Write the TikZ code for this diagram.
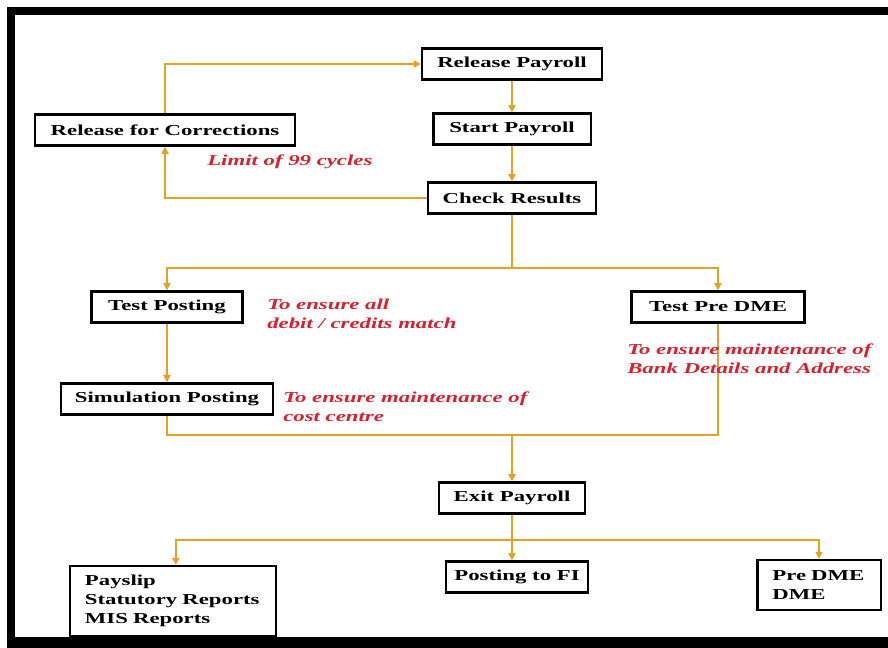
\documentclass[tikz,border=0pt]{standalone}
\usepackage{fontspec}
\setmainfont[FakeStretch=1.5]{Liberation Serif}
\usetikzlibrary{arrows.meta}
\definecolor{flowline}{RGB}{230,162,30}
\definecolor{notered}{RGB}{222,30,45}

\begin{document}
\begin{tikzpicture}[x=0.025cm,y=-0.025cm,
  box/.style={rectangle, draw, line width=1.6pt, fill=white, font=\bfseries,
              minimum height=0.78cm, inner sep=0pt},
  listbox/.style={box, align=left, inner xsep=0.375cm},
  note/.style={anchor=west, align=left, text=notered, font=\bfseries\itshape, inner sep=0pt},
  flow/.style={draw=flowline, line width=1.8pt},
  arr/.style={flow, -{Triangle[length=5pt,width=5pt]}}]
\fontsize{10.8}{13.5}\selectfont
\clip (0,0) rectangle (888,648);
% frame
\fill[black] (7,7) rectangle (900,660);
\fill[white] (15,15) rectangle (900,637);

% payroll run
\node[box, minimum width=4.5cm] (rel) at (512,64) {Release Payroll};
\node[box, minimum width=3.93cm] (start) at (512,129) {Start Payroll};
\node[box, minimum width=4.2cm] (chk) at (512,198) {Check Results};
\node[box, minimum width=6.48cm] (rfc) at (165,130) {Release for Corrections};

% postings
\node[box, minimum width=3.78cm] (tp) at (167,307) {Test Posting};
\node[box, minimum width=5.28cm] (sim) at (167,399) {Simulation Posting};
\node[box, minimum width=4.32cm] (tpd) at (718,307) {Test Pre DME};

% exit and outputs
\node[box, minimum width=3.65cm] (exit) at (512,498) {Exit Payroll};
\node[listbox, text width=4.4cm, minimum height=1.75cm] (pay) at (173,601)
     {Payslip\\Statutory Reports\\MIS Reports};
\node[box, minimum width=3.55cm] (fi) at (517,577) {Posting to FI};
\node[listbox, text width=2.33cm, minimum height=1.25cm] (dme) at (819,585)
     {Pre DME\\DME};

\coordinate (split1) at (512,268);
\coordinate (join1) at (512,435);
\coordinate (split2) at (512,540);

% connectors
\draw[arr] (rel) -- (start);
\draw[arr] (start) -- (chk);
\draw[arr] (chk.west) -| (rfc.south);
\draw[arr] (rfc.north) |- (rel.west);
\draw[flow] (chk.south) -- (split1);
\draw[arr] (split1) -| (tp.north);
\draw[arr] (split1) -| (tpd.north);
\draw[arr] (tp) -- (sim);
\draw[flow] (sim.south) |- (join1);
\draw[flow] (tpd.south) |- (join1);
\draw[arr] (join1) -- (exit);
\draw[flow] (exit.south) -- (split2);
\draw[arr] (split2) -| ([xshift=2]pay.north);
\draw[arr] (split2) -| (fi.north -| split2);
\draw[arr] (split2) -| (dme.north);

% notes
\node[note] (cyc) at (207,162) {Limit of 99 cycles};
\node[note] (tpnote) at (267,314) {To ensure all\\debit / credits match};
\node[note] (simnote) at (283,407) {To ensure maintenance of\\cost centre};
\node[note] (tpdnote) at (627,359) {To ensure maintenance of\\Bank Details and Address};
\end{tikzpicture}
\end{document}
